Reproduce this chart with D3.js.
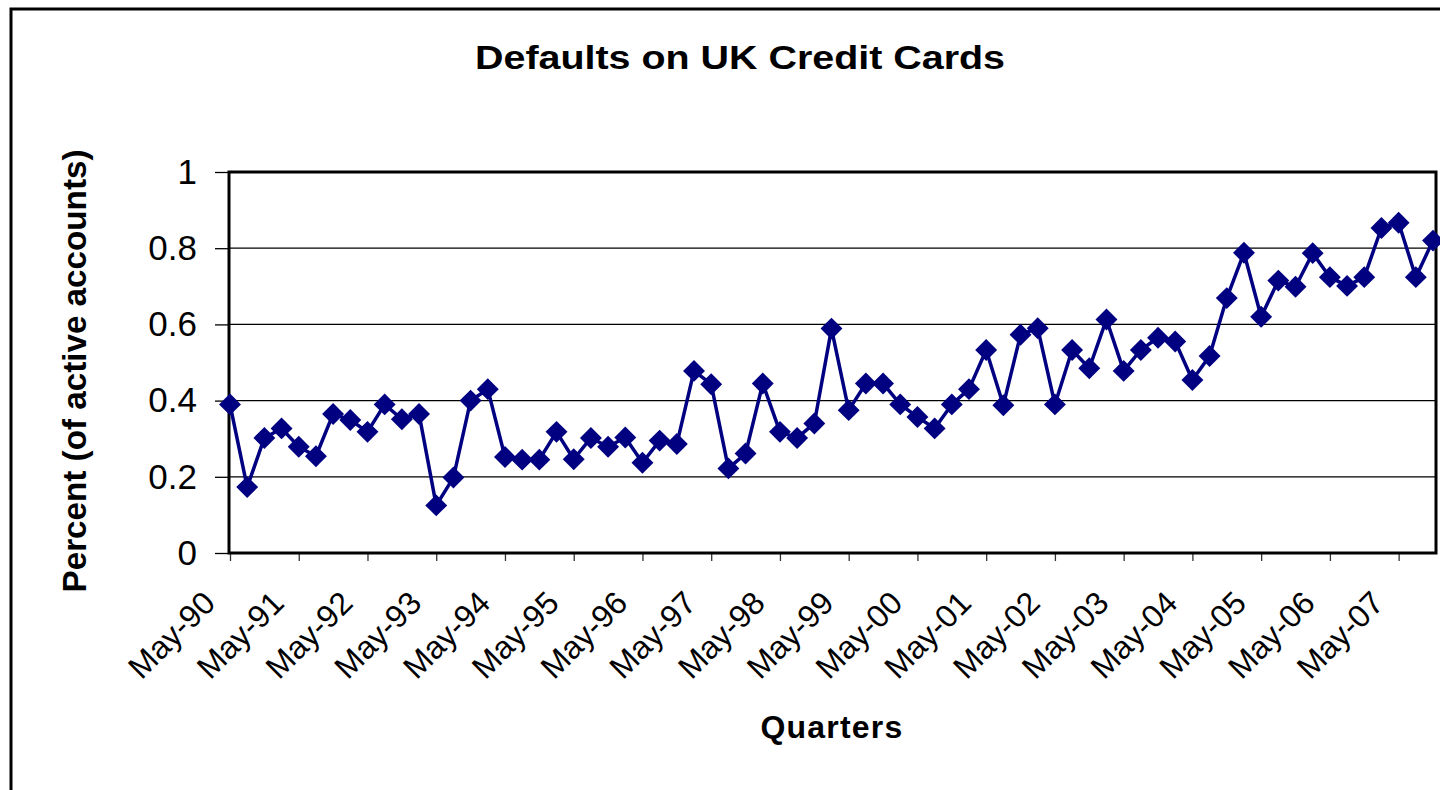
<!DOCTYPE html>
<html>
<head>
<meta charset="utf-8">
<script src="https://cdn.jsdelivr.net/npm/d3@7"></script>
<style>
  html, body { margin: 0; padding: 0; background: #fff; }
  svg { display: block; font-family: "Liberation Sans", Arial, sans-serif; }
</style>
</head>
<body>
<svg id="chart" width="1440" height="790"></svg>
<script>
// quarterly categories, May-90 .. Nov-07
const quarters = [
  "May-90","Aug-90","Nov-90","Feb-91","May-91","Aug-91","Nov-91","Feb-92",
  "May-92","Aug-92","Nov-92","Feb-93","May-93","Aug-93","Nov-93","Feb-94",
  "May-94","Aug-94","Nov-94","Feb-95","May-95","Aug-95","Nov-95","Feb-96",
  "May-96","Aug-96","Nov-96","Feb-97","May-97","Aug-97","Nov-97","Feb-98",
  "May-98","Aug-98","Nov-98","Feb-99","May-99","Aug-99","Nov-99","Feb-00",
  "May-00","Aug-00","Nov-00","Feb-01","May-01","Aug-01","Nov-01","Feb-02",
  "May-02","Aug-02","Nov-02","Feb-03","May-03","Aug-03","Nov-03","Feb-04",
  "May-04","Aug-04","Nov-04","Feb-05","May-05","Aug-05","Nov-05","Feb-06",
  "May-06","Aug-06","Nov-06","Feb-07","May-07","Aug-07","Nov-07"
];

// percent of active accounts in default
const defaults = [
  0.390, 0.173, 0.302, 0.327, 0.279, 0.254, 0.365, 0.349,
  0.318, 0.390, 0.351, 0.365, 0.125, 0.198, 0.400, 0.430,
  0.252, 0.245, 0.245, 0.318, 0.246, 0.302, 0.279, 0.303,
  0.237, 0.295, 0.286, 0.478, 0.443, 0.222, 0.261, 0.445,
  0.318, 0.302, 0.340, 0.589, 0.375, 0.445, 0.445, 0.390,
  0.357, 0.327, 0.390, 0.430, 0.533, 0.388, 0.573, 0.590,
  0.390, 0.533, 0.485, 0.613, 0.478, 0.533, 0.565, 0.555,
  0.454, 0.517, 0.669, 0.788, 0.620, 0.715, 0.699, 0.787,
  0.724, 0.701, 0.724, 0.853, 0.867, 0.724, 0.820
];

const tickLabels = [
  "May-90","May-91","May-92","May-93","May-94","May-95","May-96","May-97","May-98",
  "May-99","May-00","May-01","May-02","May-03","May-04","May-05","May-06","May-07"
];

const yTicks = [0, 0.2, 0.4, 0.6, 0.8, 1];

const svg = d3.select("#chart");

const plot = { left: 229, right: 1436, top: 172, bottom: 553 };

const x = d3.scalePoint()
  .domain(quarters)
  .range([plot.left + 1, 1433]);

const y = d3.scaleLinear()
  .domain([0, 1])
  .range([plot.bottom, plot.top]);

// outer chart frame (only top and left visible in the picture)
svg.append("path")
  .attr("d", "M11,790 L11,9 L1440,9")
  .attr("fill", "none")
  .attr("stroke", "#000")
  .attr("stroke-width", 3);

// title
svg.append("text")
  .attr("x", 740)
  .attr("y", 69)
  .attr("text-anchor", "middle")
  .attr("font-size", 34)
  .attr("font-weight", "bold")
  .attr("textLength", 530)
  .attr("lengthAdjust", "spacingAndGlyphs")
  .text("Defaults on UK Credit Cards");

// gridlines
svg.append("g")
  .selectAll("line")
  .data(yTicks.filter(d => d > 0 && d < 1))
  .enter()
  .append("line")
    .attr("x1", plot.left)
    .attr("x2", plot.right)
    .attr("y1", d => y(d))
    .attr("y2", d => y(d))
    .attr("stroke", "#000")
    .attr("stroke-width", 1.3);

// y axis
const yAxis = d3.axisLeft(y)
  .tickValues(yTicks)
  .tickSize(14)
  .tickPadding(18)
  .tickFormat(d => d3.format("")(d));

svg.append("g")
  .attr("transform", `translate(${plot.left},0)`)
  .call(yAxis)
  .call(g => g.select(".domain").remove())
  .call(g => g.selectAll(".tick line").attr("stroke", "#000").attr("stroke-width", 1.3))
  .call(g => g.selectAll(".tick text")
    .attr("font-family", "'Liberation Sans', Arial, sans-serif")
    .attr("font-size", 35)
    .attr("fill", "#000"));

// x axis: a tick every fourth quarter
const xAxis = d3.axisBottom(x)
  .tickValues(tickLabels)
  .tickSize(8)
  .tickFormat("");

svg.append("g")
  .attr("transform", `translate(0,${plot.bottom})`)
  .call(xAxis)
  .call(g => g.select(".domain").remove())
  .call(g => g.selectAll(".tick line").attr("stroke", "#333").attr("stroke-width", 1.3));

svg.append("g")
  .selectAll("text")
  .data(tickLabels)
  .enter()
  .append("text")
    .attr("transform", d => `translate(${x(d) - 13},${plot.bottom + 52}) rotate(-45)`)
    .attr("text-anchor", "end")
    .attr("font-size", 32)
    .text(d => d);

// plot frame
svg.append("rect")
  .attr("x", plot.left)
  .attr("y", plot.top)
  .attr("width", plot.right - plot.left)
  .attr("height", plot.bottom - plot.top)
  .attr("fill", "none")
  .attr("stroke", "#000")
  .attr("stroke-width", 3);

// axis titles
svg.append("text")
  .attr("x", 832)
  .attr("y", 738)
  .attr("text-anchor", "middle")
  .attr("font-size", 32)
  .attr("font-weight", "bold")
  .attr("letter-spacing", 1.2)
  .text("Quarters");

svg.append("text")
  .attr("transform", "translate(86,371) rotate(-90)")
  .attr("text-anchor", "middle")
  .attr("font-size", 33)
  .attr("font-weight", "bold")
  .attr("textLength", 443)
  .attr("lengthAdjust", "spacingAndGlyphs")
  .text("Percent (of active accounts)");

// series
const points = quarters.map((q, i) => ({ q: q, v: defaults[i] }));

svg.append("path")
  .datum(points)
  .attr("fill", "none")
  .attr("stroke", "#000080")
  .attr("stroke-width", 3.5)
  .attr("stroke-linejoin", "round")
  .attr("d", d3.line().x(d => x(d.q)).y(d => y(d.v)));

const diamond = d3.symbol().type(d3.symbolSquare).size(240);

svg.append("g")
  .selectAll("path")
  .data(points)
  .enter()
  .append("path")
    .attr("d", diamond)
    .attr("transform", d => `translate(${x(d.q)},${y(d.v)}) rotate(45)`)
    .attr("fill", "#000080");
</script>
</body>
</html>
